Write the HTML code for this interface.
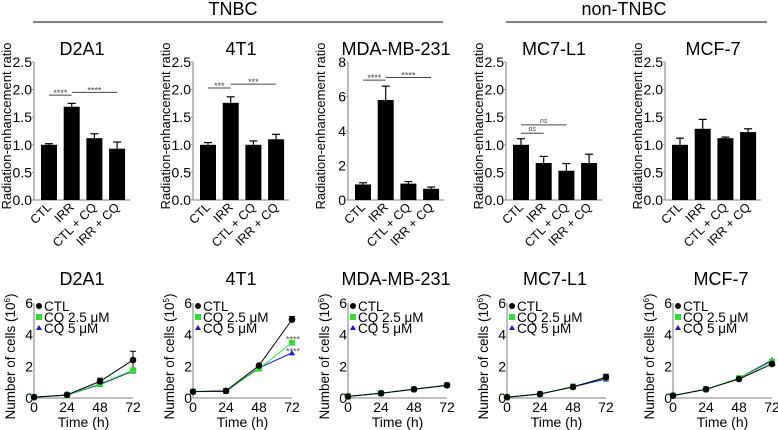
<!DOCTYPE html>
<html><head><meta charset="utf-8"><style>
body{margin:0;background:#fff;}
svg{display:block;font-family:"Liberation Sans",Arial,sans-serif;}
</style></head><body>
<svg id="fig" width="778" height="430" viewBox="0 0 778 430" xmlns="http://www.w3.org/2000/svg">
<text x="233" y="15" font-size="18" text-anchor="middle">TNBC</text>
<line x1="33" y1="22" x2="443" y2="22" stroke="#000" stroke-width="1"/>
<text x="624" y="15" font-size="18" text-anchor="middle">non-TNBC</text>
<line x1="506" y1="22" x2="767" y2="22" stroke="#000" stroke-width="1"/>
</svg>
<script>
const cellLines = ["D2A1","4T1","MDA-MB-231","MC7-L1","MCF-7"];
const barCategories = ["CTL","IRR","CTL + CQ","IRR + CQ"];
const barValues = [[1.0,1.69,1.12,0.93],[1.0,1.76,1.0,1.1],[0.9,5.8,0.95,0.65],[1.0,0.67,0.53,0.67],[1.0,1.29,1.12,1.23]];
const barErrors = [[0.02,0.06,0.08,0.12],[0.04,0.11,0.07,0.09],[0.1,0.8,0.12,0.1],[0.11,0.12,0.13,0.16],[0.12,0.17,0.02,0.06]];
const barYMax = [2.5,2.5,8,2.5,2.5];
const barTicks = [["0.0","0.5","1.0","1.5","2.0","2.5"],["0.0","0.5","1.0","1.5","2.0","2.5"],["0","2","4","6","8"],["0.0","0.5","1.0","1.5","2.0","2.5"],["0.0","0.5","1.0","1.5","2.0","2.5"]];
// significance: [panel, fromBar, toBar, yValue, label]
const sigMarks = [[0,0,1,1.9,"****"],[0,1,3,1.95,"****"],[1,0,1,2.03,"***"],[1,1,3,2.1,"***"],[2,0,1,6.95,"****"],[2,1,3,7.1,"****"],[3,0,1,1.21,"ns"],[3,0,2,1.36,"ns"]];
const times = [0,24,48,72];
const timeTicks = ["0","24","48","72"];
const countTicks = ["0","2","4","6"];
const ctlCounts = [[0.05,0.2,1.05,2.4],[0.4,0.45,2.05,4.95],[0.1,0.3,0.55,0.8],[0.05,0.25,0.7,1.3],[0.15,0.55,1.2,2.15]];
const cq25Counts = [[0.05,0.18,0.9,1.75],[0.4,0.45,1.85,3.5],[0.1,0.3,0.55,0.82],[0.05,0.25,0.72,1.28],[0.15,0.55,1.25,2.3]];
const cq5Counts = [[0.05,0.18,0.85,1.7],[0.4,0.42,1.9,2.85],[0.1,0.3,0.55,0.8],[0.05,0.25,0.7,1.2],[0.15,0.55,1.25,2.4]];
const ctlErr = [[0.02,0.03,0.2,0.55],[0.03,0.03,0.05,0.2],[0.03,0.03,0.05,0.05],[0.02,0.03,0.05,0.2],[0.03,0.05,0.08,0.1]];
const countExp = ["6","5","6","6","6"];

const NS="http://www.w3.org/2000/svg";
const svg=document.getElementById('fig');
function mk(tag,attrs,parent){const e=document.createElementNS(NS,tag);for(const k in attrs)e.setAttribute(k,attrs[k]);(parent||svg).appendChild(e);return e;}
const axisX=[34,193,348,506,665];
const lineX0=[34,193,348,507,673];
const grey="#999";

// Bar charts
const bTop=62,bBot=200,bStep=22.7,bW=16;
for(let p=0;p<5;p++){
  const g=mk('g',{});
  
  
  const ax=axisX[p];
  const ys=v=>bBot-(v/barYMax[p])*(bBot-bTop);
  const xs=i=>ax+15+i*bStep;
  const t=mk('text',{x:ax+48,y:55,'font-size':18,'text-anchor':'middle'},g);t.textContent=cellLines[p];
  
  const yl=mk('text',{transform:`translate(${ax-23},${(bTop+bBot)/2-5}) rotate(-90)`,'font-size':13,'text-anchor':'middle'},g);yl.textContent="Radiation-enhancement ratio";
  
  const ya=mk('line',{x1:ax,y1:bTop,x2:ax,y2:bBot,stroke:grey,'stroke-width':1.3},g);
  
  const xa=mk('line',{x1:ax,y1:bBot,x2:ax+96,y2:bBot,stroke:grey,'stroke-width':1.3},g);
  
  const n=barTicks[p].length;
  barTicks[p].forEach((lab,i)=>{
    const v=barYMax[p]*i/(n-1),y=ys(v);
    mk('line',{x1:ax-2,y1:y,x2:ax,y2:y,stroke:grey},g);
    const tt=mk('text',{x:ax-2,y:y+5,'font-size':14,'text-anchor':'end'},g);tt.textContent=lab;
    
  });
  barValues[p].forEach((v,i)=>{
    const cx=xs(i),e=barErrors[p][i];
    const r=mk('rect',{x:cx-bW/2,y:ys(v),width:bW,height:bBot-ys(v),fill:'#000'},g);
    
    
    mk('line',{x1:cx,y1:ys(v),x2:cx,y2:ys(v+e),stroke:'#000','stroke-width':1.2},g);
    mk('line',{x1:cx-4,y1:ys(v+e),x2:cx+4,y2:ys(v+e),stroke:'#000','stroke-width':1.2},g);
    const xl=mk('text',{transform:`translate(${cx+3},${bBot+8}) rotate(-45)`,'font-size':12.5,'text-anchor':'end'},g);xl.textContent=barCategories[i];
    
  });
  sigMarks.filter(s=>s[0]===p).forEach(s=>{
    const y=ys(s[3]),x1=xs(s[1]),x2=xs(s[2]);
    const l=mk('line',{x1:x1,y1:y,x2:x2,y2:y,stroke:'#444','stroke-width':1},g);
    
    const st=mk('text',{x:(x1+x2)/2,y:s[4]==="ns"?y-2:y+1,'font-size':s[4]==="ns"?7:9,'text-anchor':'middle','font-style':s[4]==="ns"?'italic':'normal',fill:'#444'},g);
    st.textContent=s[4];
    
  });
}

// Line charts
const lTop=303,lBot=398,lW=99;
const series=[["CTL",ctlCounts,"#000","circle"],["CQ 2.5 μM",cq25Counts,"#33dd33","square"],["CQ 5 μM",cq5Counts,"#1a1acc","triangle"]];
for(let p=0;p<5;p++){
  const g=mk('g',{});
  
  
  const x0=lineX0[p];
  const xs=t=>x0+t/72*lW;
  const ys=v=>lBot-v/6*(lBot-lTop);
  const t=mk('text',{x:x0+48,y:285,'font-size':18,'text-anchor':'middle'},g);t.textContent=cellLines[p];
  
  const yl=mk('text',{transform:`translate(${x0-19},${(lTop+lBot)/2+6}) rotate(-90)`,'font-size':13.5,'text-anchor':'middle'},g);
  yl.innerHTML=`Number of cells  (10<tspan dy="-5" font-size="8">${countExp[p]}</tspan><tspan dy="5">)</tspan>`;
  
  mk('line',{x1:x0,y1:lTop,x2:x0,y2:lBot,stroke:grey,'stroke-width':1.3},g);
  mk('line',{x1:x0,y1:lBot,x2:x0+lW,y2:lBot,stroke:grey,'stroke-width':1.3},g);
  countTicks.forEach((lab,i)=>{
    const y=ys(+lab);
    const tt=mk('text',{x:x0-1,y:y+5,'font-size':14,'text-anchor':'end'},g);tt.textContent=lab;
    
  });
  timeTicks.forEach((lab,i)=>{
    const tt=mk('text',{x:xs(times[i]),y:lBot+14,'font-size':14,'text-anchor':'middle'},g);tt.textContent=lab;
    
  });
  const xt=mk('text',{x:x0+lW/2,y:lBot+29,'font-size':14,'text-anchor':'middle'},g);xt.textContent="Time (h)";
  
  // CTL error bars
  times.forEach((tm,i)=>{
    const v=ctlCounts[p][i],e=ctlErr[p][i],cx=xs(tm);
    mk('line',{x1:cx,y1:ys(v-e),x2:cx,y2:ys(v+e),stroke:'#000'},g);
    mk('line',{x1:cx-3,y1:ys(v+e),x2:cx+3,y2:ys(v+e),stroke:'#000'},g);
  });
  for(let s=series.length-1;s>=0;s--){
    const [name,data,col,shape]=series[s];
    const pts=times.map((tm,i)=>xs(tm)+','+ys(data[p][i])).join(' ');
    const pl=mk('polyline',{points:pts,fill:'none',stroke:col,'stroke-width':1},g);
    
    
    times.forEach((tm,i)=>{
      const cx=xs(tm),cy=ys(data[p][i]);let m;
      if(shape==='circle')m=mk('circle',{cx:cx,cy:cy,r:3.3,fill:col},g);
      else if(shape==='square')m=mk('rect',{x:cx-3,y:cy-3,width:6,height:6,fill:col},g);
      else m=mk('polygon',{points:`${cx},${cy-3} ${cx-3},${cy+2.5} ${cx+3},${cy+2.5}`,fill:col},g);
      
      
    });
  }
  // legend
  series.forEach(([name,data,col,shape],i)=>{
    const lx=x0+5,ly=lTop+3+i*11;
    if(shape==='circle')mk('circle',{cx:lx,cy:ly,r:3,fill:col},g);
    else if(shape==='square')mk('rect',{x:lx-3,y:ly-3,width:6,height:6,fill:col},g);
    else mk('polygon',{points:`${lx},${ly-3} ${lx-3},${ly+2} ${lx+3},${ly+2}`,fill:col},g);
    const lt=mk('text',{x:lx+5,y:ly+5,'font-size':13.5},g);lt.textContent=name;
    
  });
  if(p===1){
    [[3.75,"****"],[3.0,"****"]].forEach(([v,l])=>{
      const st=mk('text',{x:xs(72)+1,y:ys(v)+4,'font-size':9,'text-anchor':'middle',fill:'#555'},g);st.textContent=l;
      
    });
  }
}
</script>
</body></html>
